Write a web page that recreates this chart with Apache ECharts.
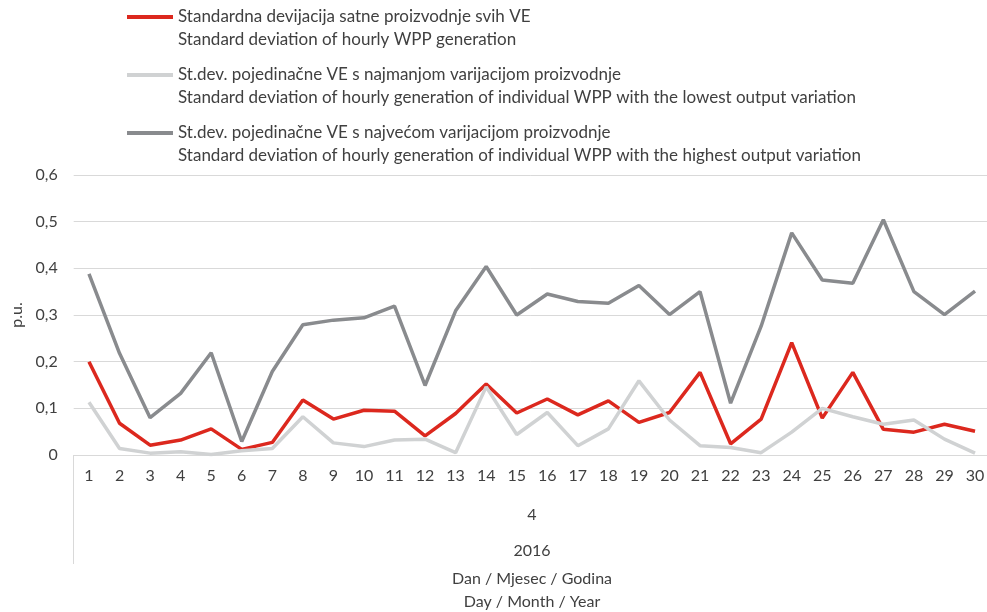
<!DOCTYPE html>
<html>
<head>
<meta charset="utf-8">
<script src="https://cdn.jsdelivr.net/npm/echarts@6/dist/echarts.min.js"></script>
<style>
html,body{margin:0;padding:0;background:#fff;}
#chart{width:987px;height:612px;}
</style>
</head>
<body>
<div id="chart"></div>
<script>
const days = ['1','2','3','4','5','6','7','8','9','10','11','12','13','14','15','16','17','18','19','20','21','22','23','24','25','26','27','28','29','30'];
const monthLabels = ['4'];
const yearLabels = ['2016'];

const nameTotalHr = 'Standardna devijacija satne proizvodnje svih VE';
const nameTotalEn = 'Standard deviation of hourly WPP generation';
const nameLowHr = 'St.dev. pojedinačne VE s najmanjom varijacijom proizvodnje';
const nameLowEn = 'Standard deviation of hourly generation of individual WPP with the lowest output variation';
const nameHighHr = 'St.dev. pojedinačne VE s najvećom varijacijom proizvodnje';
const nameHighEn = 'Standard deviation of hourly generation of individual WPP with the highest output variation';

const totalStd = [0.200,0.068,0.021,0.032,0.056,0.012,0.027,0.118,0.077,0.096,0.094,0.041,0.089,0.152,0.090,0.120,0.086,0.116,0.070,0.091,0.177,0.024,0.077,0.241,0.079,0.177,0.055,0.049,0.066,0.051];
const lowestStd = [0.113,0.014,0.004,0.007,0.001,0.009,0.014,0.082,0.026,0.018,0.032,0.034,0.005,0.146,0.044,0.091,0.020,0.056,0.159,0.075,0.020,0.016,0.005,0.049,0.100,0.082,0.066,0.075,0.034,0.004];
const highestStd = [0.388,0.218,0.080,0.132,0.219,0.029,0.179,0.279,0.289,0.294,0.319,0.149,0.309,0.404,0.300,0.345,0.329,0.325,0.363,0.301,0.350,0.111,0.276,0.476,0.375,0.368,0.504,0.350,0.301,0.351];

const FONT = 'Lato';
const TXT = '#404040';
const LEG_FS = 17;

const chart = echarts.init(document.getElementById('chart'), null, {renderer:'canvas'});
chart.setOption({
  animation: false,
  backgroundColor: '#fff',
  textStyle: {fontFamily: FONT},
  grid: {left: 73.7, top: 175, width: 916.6, height: 280, containLabel: false, outerBoundsMode: 'none'},
  legend: {
    orient: 'vertical',
    left: 127, top: 8, padding: 0,
    itemWidth: 46, itemHeight: 4, itemGap: 40,
    icon: 'rect',
    selectedMode: false,
    textStyle: {fontFamily: FONT, fontSize: LEG_FS, color: TXT, lineHeight: 18},
    data: [nameTotalHr, nameLowHr, nameHighHr]
  },
  graphic: [
    {type:'text', left: 178, top: 31, style:{text: nameTotalEn, font: LEG_FS + 'px ' + FONT, fill: TXT}},
    {type:'text', left: 178, top: 89, style:{text: nameLowEn, font: LEG_FS + 'px ' + FONT, fill: TXT}},
    {type:'text', left: 178, top: 147, style:{text: nameHighEn, font: LEG_FS + 'px ' + FONT, fill: TXT}}
  ],
  xAxis: [
    {
      type: 'category', data: days, boundaryGap: true, position: 'bottom',
      axisLine: {show: true, lineStyle: {color: '#d9d9d9', width: 1}},
      axisTick: {show: false},
      axisLabel: {color: TXT, fontSize: 16, fontFamily: FONT, margin: 13, interval: 0}
    },
    {
      type: 'category', data: monthLabels, boundaryGap: true, position: 'bottom',
      axisLine: {show: false},
      axisTick: {show: true, length: 109, lineStyle: {color: '#d9d9d9', width: 1}},
      axisLabel: {color: TXT, fontSize: 16, fontFamily: FONT, margin: 52},
      splitLine: {show: false}
    },
    {
      type: 'category', data: yearLabels, boundaryGap: true, position: 'bottom',
      axisLine: {show: false},
      axisTick: {show: false},
      axisLabel: {color: TXT, fontSize: 16, fontFamily: FONT, margin: 88},
      splitLine: {show: false},
      name: 'Dan / Mjesec / Godina\nDay / Month / Year',
      nameLocation: 'middle', nameGap: 112,
      nameTextStyle: {color: TXT, fontSize: 16, fontFamily: FONT, lineHeight: 23}
    }
  ],
  yAxis: {
    type: 'value', min: 0, max: 0.6, interval: 0.1,
    name: 'p.u.', nameLocation: 'middle', nameGap: 49,
    nameTextStyle: {color: TXT, fontSize: 16, fontFamily: FONT},
    axisLine: {show: false}, axisTick: {show: false},
    axisLabel: {color: TXT, fontSize: 16, fontFamily: FONT, margin: 16,
      formatter: v => v === 0 ? '0' : v.toFixed(1).replace('.', ',')},
    splitLine: {show: true, lineStyle: {color: '#d9d9d9', width: 1}}
  },
  series: [
    {name: nameTotalHr, type: 'line', data: totalStd, symbol: 'none', lineStyle: {width: 3.5, color: '#dc281e'}, itemStyle: {color: '#dc281e'}},
    {name: nameLowHr, type: 'line', data: lowestStd, symbol: 'none', lineStyle: {width: 3.5, color: '#d0d2d3'}, itemStyle: {color: '#d0d2d3'}},
    {name: nameHighHr, type: 'line', data: highestStd, symbol: 'none', lineStyle: {width: 3.5, color: '#898b8e'}, itemStyle: {color: '#898b8e'}}
  ]
});
</script>
</body>
</html>
